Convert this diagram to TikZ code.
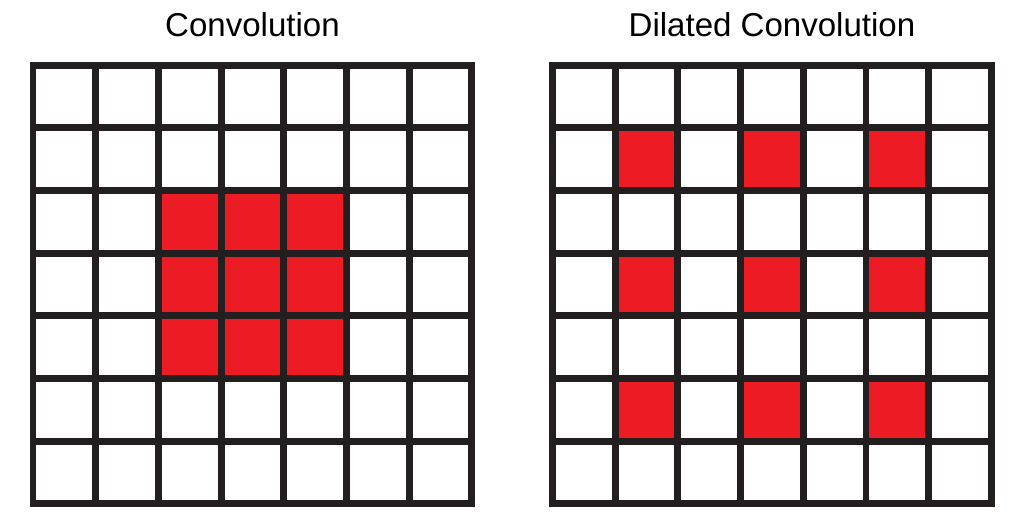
\documentclass[tikz,border=0pt]{standalone}
\usepackage{fontspec}
\setmainfont{Liberation Sans}
\usepackage{tikz}
\usetikzlibrary{positioning}
\definecolor{MyCell}{RGB}{237,28,36}
\definecolor{MyLine}{RGB}{35,31,32}
\tikzset{
    gridline/.style={
      color=MyLine,
      line width=3.15pt,
      line cap=rect
    },
    title/.style={
      text=black,
      font=\fontsize{15}{18}\selectfont,
      inner sep=0pt
    },
}

\begin{document}
\begin{tikzpicture}[scale=1]
    \useasboundingbox (0,0) rectangle (16.268,8.437);

    % plain convolution
    \begin{scope}[xshift=0.526cm,yshift=0.4cm]
      \foreach \i in {2,3,4}
        \foreach \j in {2,3,4}
          \fill[MyCell] (\i,7-\j) rectangle ++(1,-1);
      \draw[gridline] (0,0) grid (7,7);
      \draw (3.5,7.64) node[title] (T0) {Convolution};
    \end{scope}

    % dilated convolution
    \begin{scope}[xshift=8.812cm,yshift=0.4cm]
      \foreach \i in {1,3,5}
        \foreach \j in {1,3,5}
          \fill[MyCell] (\i,7-\j) rectangle ++(1,-1);
      \draw[gridline] (0,0) grid (7,7);
      \draw (3.5,7.64) node[title] (T1) {Dilated Convolution};
    \end{scope}
  \end{tikzpicture}
\end{document}
